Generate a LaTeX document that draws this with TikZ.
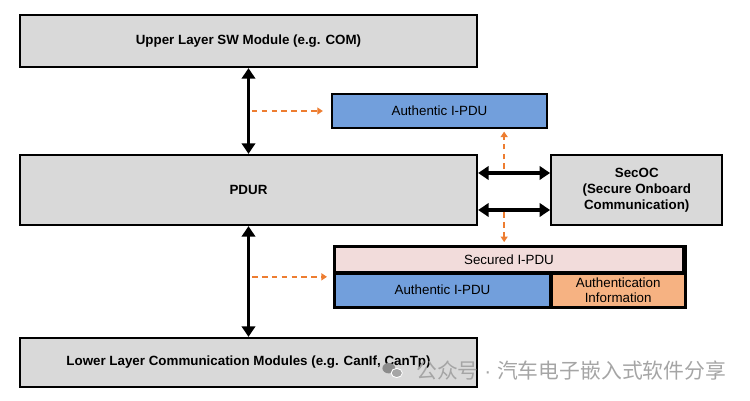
\documentclass[tikz,border=0pt]{standalone}
\usepackage{fontspec}
\setmainfont{Liberation Sans}
\newfontfamily\cjkfont{Noto Sans CJK SC}
\usetikzlibrary{positioning,arrows.meta,calc}
\definecolor{boxgray}{RGB}{217,217,217}
\definecolor{pdublue}{RGB}{114,159,220}
\definecolor{secpink}{RGB}{242,220,219}
\definecolor{infoorange}{RGB}{246,178,130}
\definecolor{dashorange}{RGB}{237,125,49}
\definecolor{markgray}{RGB}{165,165,165}

\begin{document}
\begin{tikzpicture}[
    module/.style={rectangle, draw, line width=1.6pt, fill=#1, minimum height=1.3cm, minimum width=11.425cm, align=center, inner sep=0pt, font=\fontsize{9.5}{11.5}\selectfont\bfseries},
    module/.default=boxgray,
    pdubox/.style={rectangle, draw, line width=1.2pt, fill=#1, align=center, inner sep=0pt, font=\fontsize{9.5}{10.5}\selectfont},
    pdubox/.default=pdublue,
    dblarrow/.style={{Triangle[width=9.5pt,length=7.5pt]}-{Triangle[width=9.5pt,length=7.5pt]}, line width=2.2pt},
    oarrow/.style={-{Triangle[width=5pt,length=4pt]}, line width=1.1pt, dash pattern=on 4pt off 3pt, color=dashorange},
]
\useasboundingbox (0,0) rectangle (18.75,10.025);

% Module stack
\node[module] (upper) at (6.2125,9.0) {Upper Layer SW Module (e.g. COM)};
\node[module, minimum height=1.75cm] (pdur) at (6.2125,5.275) {PDUR};
\node[module, minimum height=1.225cm] (lower) at (6.2125,0.9625) {Lower Layer Communication Modules (e.g. CanIf, CanTp)};
\node[module, minimum width=4.275cm, minimum height=1.75cm, right=1.8cm of pdur] (secoc) {SecOC\\(Secure Onboard\\Communication)};

% I-PDUs
\node[pdubox, minimum width=5.375cm, minimum height=0.85cm, line width=1.6pt] (authtop) at (10.9875,7.25) {Authentic I-PDU};
\node[pdubox=secpink, minimum width=8.7cm, minimum height=0.625cm] (secured) at (12.725,3.5375) {Secured I-PDU};
\node[pdubox, minimum width=5.375cm, minimum height=0.825cm, anchor=north west] (authbot) at (secured.south west) {Authentic I-PDU};
\node[pdubox=infoorange, minimum width=3.325cm, minimum height=0.825cm, right=0pt of authbot] (authinfo) {Authentication\\Information};
\draw[line width=1.8pt] (secured.north west) rectangle (authinfo.south east);

% Arrows
\draw[dblarrow] (upper) -- (pdur);
\draw[dblarrow] (pdur) -- (lower);
\draw[dblarrow] ([yshift=0.425cm]pdur.east) -- ([yshift=0.425cm]secoc.west);
\draw[dblarrow] ([yshift=-0.5cm]pdur.east) -- ([yshift=-0.5cm]secoc.west);

% Data flow
\draw[oarrow] ([xshift=-1.975cm]authtop.west) -- ([xshift=-0.2cm]authtop.west);
\draw[oarrow] ([xshift=-1.1cm,yshift=-1cm]authtop.south east) -- ([xshift=-1.1cm,yshift=-0.06cm]authtop.south east);
\draw[oarrow] ([xshift=4.25cm,yshift=0.85cm]secured.north west) -- ([xshift=4.25cm,yshift=0.1cm]secured.north west);
\draw[oarrow] ([xshift=-2.05cm,yshift=-0.1cm]authbot.north west) -- ([xshift=-0.18cm,yshift=-0.1cm]authbot.north west);

% Watermark
\fill[markgray!85!black] (9.72,0.82) ellipse (0.16 and 0.13);
\fill[markgray, draw=white, line width=0.6pt] (9.92,0.7) ellipse (0.14 and 0.115);
\node[text=markgray, anchor=west, inner sep=0pt, font=\cjkfont\fontsize{14.8}{14.8}\selectfont] (mark) at (10.4,0.75) {公众号{\rmfamily\ ·\ }汽车电子嵌入式软件分享};

\end{tikzpicture}
\end{document}
